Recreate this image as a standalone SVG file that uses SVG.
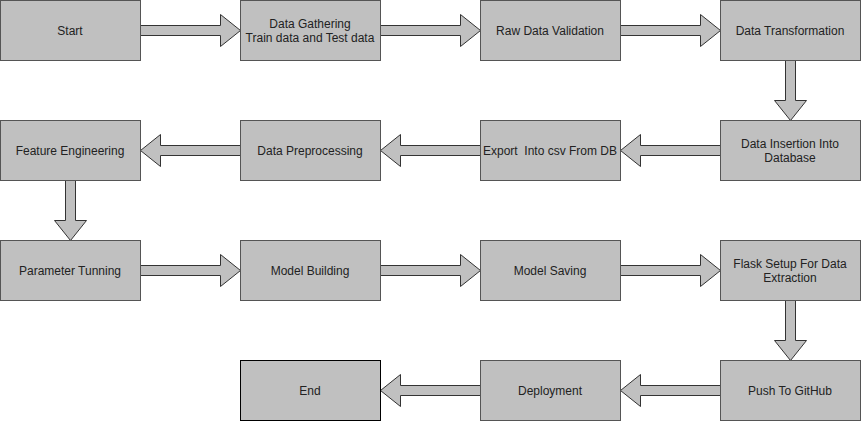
<svg xmlns="http://www.w3.org/2000/svg" width="861" height="421" viewBox="0 0 861 421">
<style>
.box{fill:#c0c0c0;stroke:#555;stroke-width:1}
.end{fill:#c0c0c0;stroke:#000;stroke-width:1}
.arr{fill:#c0c0c0;stroke:#333;stroke-width:1}
text{font-family:"Liberation Sans",Arial,sans-serif;font-size:12px;fill:#222;text-anchor:middle}
</style>
<rect width="861" height="421" fill="#fff"/>
<g id="connectors">
<polygon class="arr" points="140.5,25.5 220.5,25.5 220.5,14.5 240.5,30.5 220.5,46.5 220.5,35.5 140.5,35.5"/>
<polygon class="arr" points="380.5,25.5 460.5,25.5 460.5,14.5 480.5,30.5 460.5,46.5 460.5,35.5 380.5,35.5"/>
<polygon class="arr" points="620.5,25.5 700.5,25.5 700.5,14.5 720.5,30.5 700.5,46.5 700.5,35.5 620.5,35.5"/>
<polygon class="arr" points="785.5,60.5 795.5,60.5 795.5,100.5 806.5,100.5 790.5,120.5 774.5,100.5 785.5,100.5"/>
<polygon class="arr" points="720.5,145.5 640.5,145.5 640.5,134.5 620.5,150.5 640.5,166.5 640.5,155.5 720.5,155.5"/>
<polygon class="arr" points="480.5,145.5 400.5,145.5 400.5,134.5 380.5,150.5 400.5,166.5 400.5,155.5 480.5,155.5"/>
<polygon class="arr" points="240.5,145.5 160.5,145.5 160.5,134.5 140.5,150.5 160.5,166.5 160.5,155.5 240.5,155.5"/>
<polygon class="arr" points="65.5,180.5 75.5,180.5 75.5,220.5 86.5,220.5 70.5,240.5 54.5,220.5 65.5,220.5"/>
<polygon class="arr" points="140.5,265.5 220.5,265.5 220.5,254.5 240.5,270.5 220.5,286.5 220.5,275.5 140.5,275.5"/>
<polygon class="arr" points="380.5,265.5 460.5,265.5 460.5,254.5 480.5,270.5 460.5,286.5 460.5,275.5 380.5,275.5"/>
<polygon class="arr" points="620.5,265.5 700.5,265.5 700.5,254.5 720.5,270.5 700.5,286.5 700.5,275.5 620.5,275.5"/>
<polygon class="arr" points="785.5,300.5 795.5,300.5 795.5,340.5 806.5,340.5 790.5,360.5 774.5,340.5 785.5,340.5"/>
<polygon class="arr" points="720.5,385.5 640.5,385.5 640.5,374.5 620.5,390.5 640.5,406.5 640.5,395.5 720.5,395.5"/>
<polygon class="arr" points="480.5,385.5 400.5,385.5 400.5,374.5 380.5,390.5 400.5,406.5 400.5,395.5 480.5,395.5"/>
</g>
<g id="start"><rect class="box" x="0.5" y="0.5" width="140" height="60"/><text x="70" y="35">Start</text></g>
<g id="gathering"><rect class="box" x="240.5" y="0.5" width="140" height="60"/><text x="310" y="28">Data Gathering</text><text x="310" y="42">Train data and Test data</text></g>
<g id="validation"><rect class="box" x="480.5" y="0.5" width="140" height="60"/><text x="550" y="35">Raw Data Validation</text></g>
<g id="transformation"><rect class="box" x="720.5" y="0.5" width="140" height="60"/><text x="790" y="35">Data Transformation</text></g>
<g id="insertion"><rect class="box" x="720.5" y="120.5" width="140" height="60"/><text x="790" y="148">Data Insertion Into</text><text x="790" y="162">Database</text></g>
<g id="export"><rect class="box" x="480.5" y="120.5" width="140" height="60"/><text x="550" y="155" xml:space="preserve">Export  Into csv From DB</text></g>
<g id="preprocessing"><rect class="box" x="240.5" y="120.5" width="140" height="60"/><text x="310" y="155">Data Preprocessing</text></g>
<g id="feature"><rect class="box" x="0.5" y="120.5" width="140" height="60"/><text x="70" y="155">Feature Engineering</text></g>
<g id="tuning"><rect class="box" x="0.5" y="240.5" width="140" height="60"/><text x="70" y="275">Parameter Tunning</text></g>
<g id="building"><rect class="box" x="240.5" y="240.5" width="140" height="60"/><text x="310" y="275">Model Building</text></g>
<g id="saving"><rect class="box" x="480.5" y="240.5" width="140" height="60"/><text x="550" y="275">Model Saving</text></g>
<g id="flask"><rect class="box" x="720.5" y="240.5" width="140" height="60"/><text x="790" y="268">Flask Setup For Data</text><text x="790" y="282">Extraction</text></g>
<g id="github"><rect class="box" x="720.5" y="360.5" width="140" height="60"/><text x="790" y="395">Push To GitHub</text></g>
<g id="deployment"><rect class="box" x="480.5" y="360.5" width="140" height="60"/><text x="550" y="395">Deployment</text></g>
<g id="end"><rect class="end" x="240.5" y="360.5" width="140" height="60"/><text x="310" y="395">End</text></g>
</svg>
